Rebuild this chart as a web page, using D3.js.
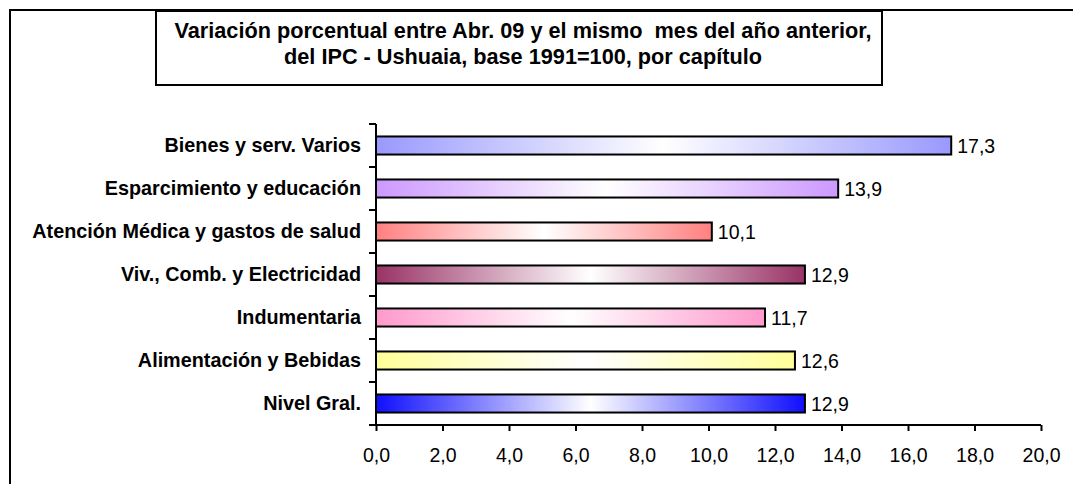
<!DOCTYPE html>
<html>
<head>
<meta charset="utf-8">
<script src="https://cdn.jsdelivr.net/npm/d3@7"></script>
<style>
body { margin: 0; background: #fff; }
svg { display: block; font-family: "Liberation Sans", Arial, sans-serif; }
</style>
</head>
<body>
<div id="chart"></div>
<script>

var categories = ["Bienes y serv. Varios", "Esparcimiento y educación", "Atención Médica y gastos de salud",
  "Viv., Comb. y Electricidad", "Indumentaria", "Alimentación y Bebidas", "Nivel Gral."];
var values = [17.3, 13.9, 10.1, 12.9, 11.7, 12.6, 12.9];
var barColors = ["#9999ff", "#cc99ff", "#ff8080", "#993366", "#ff99cc", "#ffff99", "#0f0fff"];
var tickValues = [0, 2, 4, 6, 8, 10, 12, 14, 16, 18, 20];
var titleLines = ["Variación porcentual entre Abr. 09 y el mismo  mes del año anterior,",
  "del IPC - Ushuaia, base 1991=100, por capítulo"];

var W = 1073, H = 484;
var fmt = function(v) { return d3.format(".1f")(v).replace(".", ","); };

var svg = d3.select("#chart").append("svg")
  .attr("width", W)
  .attr("height", H);

// outer frame (runs off the page on right and bottom)
svg.append("rect")
  .attr("x", 10).attr("y", 10)
  .attr("width", W + 20).attr("height", H + 20)
  .style("fill", "#fff").style("stroke", "#000").style("stroke-width", 2);

// title box
svg.append("rect")
  .attr("x", 156).attr("y", 11)
  .attr("width", 726).attr("height", 74)
  .style("fill", "#fff").style("stroke", "#000").style("stroke-width", 2);

svg.selectAll(".title")
  .data(titleLines)
  .enter().append("text")
  .attr("x", 523)
  .attr("y", function(d, i) { return 38 + i * 26; })
  .attr("text-anchor", "middle")
  .style("font-size", "21.7px")
  .style("font-weight", "bold")
  .style("white-space", "pre")
  .text(function(d) { return d; });

var x = d3.scaleLinear().domain([0, 20]).range([376, 1041]);
var y = d3.scaleBand().domain(categories).range([124, 425]).paddingInner(0.58).paddingOuter(0.29);

// gradients: colour - white - colour
var defs = svg.append("defs");
categories.forEach(function(c, i) {
  var g = defs.append("linearGradient")
    .attr("id", "grad" + i)
    .attr("x1", "0%").attr("x2", "100%").attr("y1", "0%").attr("y2", "0%");
  g.append("stop").attr("offset", "0%").attr("stop-color", barColors[i]);
  g.append("stop").attr("offset", "50%").attr("stop-color", "#ffffff");
  g.append("stop").attr("offset", "100%").attr("stop-color", barColors[i]);
});

svg.selectAll(".bar")
  .data(values)
  .enter().append("rect")
  .attr("class", "bar")
  .attr("x", x(0))
  .attr("y", function(d, i) { return y(categories[i]); })
  .attr("width", function(d) { return x(d) - x(0); })
  .attr("height", y.bandwidth())
  .style("fill", function(d, i) { return "url(#grad" + i + ")"; })
  .style("stroke", "#000")
  .style("stroke-width", 2);

svg.selectAll(".val")
  .data(values)
  .enter().append("text")
  .attr("x", function(d) { return x(d) + 6; })
  .attr("y", function(d, i) { return y(categories[i]) + y.bandwidth() / 2 + 7; })
  .style("font-size", "19.5px")
  .text(function(d) { return fmt(d); });

// y axis
var yAxis = d3.axisLeft(y).tickSize(0).tickPadding(15);
var gy = svg.append("g").attr("transform", "translate(" + x(0) + ",0)").call(yAxis);
gy.select(".domain").attr("d", "M0,124V425").style("stroke-width", 2);
gy.selectAll("text").style("font-size", "19.8px").style("font-weight", "bold")
  .attr("dy", "0.34em")
  .style("font-family", "Liberation Sans, Arial, sans-serif").style("fill", "#000");

// y ticks at band boundaries
var bounds = d3.range(categories.length + 1).map(function(i) { return 124 + i * (301 / categories.length); });
svg.selectAll(".ytick")
  .data(bounds)
  .enter().append("line")
  .attr("x1", x(0) - 7).attr("x2", x(0))
  .attr("y1", function(d) { return d; }).attr("y2", function(d) { return d; })
  .style("stroke", "#000").style("stroke-width", 2);

// x axis
var xAxis = d3.axisBottom(x).tickValues(tickValues).tickSize(6).tickPadding(17).tickFormat(fmt);
var gx = svg.append("g").attr("transform", "translate(0,425)").call(xAxis);
gx.select(".domain").attr("d", "M376,0H1041").style("stroke-width", 2);
gx.selectAll(".tick line").style("stroke-width", 2);
gx.selectAll("text").style("font-size", "19.5px")
  .style("font-family", "Liberation Sans, Arial, sans-serif").style("fill", "#000");

</script>
</body>
</html>
